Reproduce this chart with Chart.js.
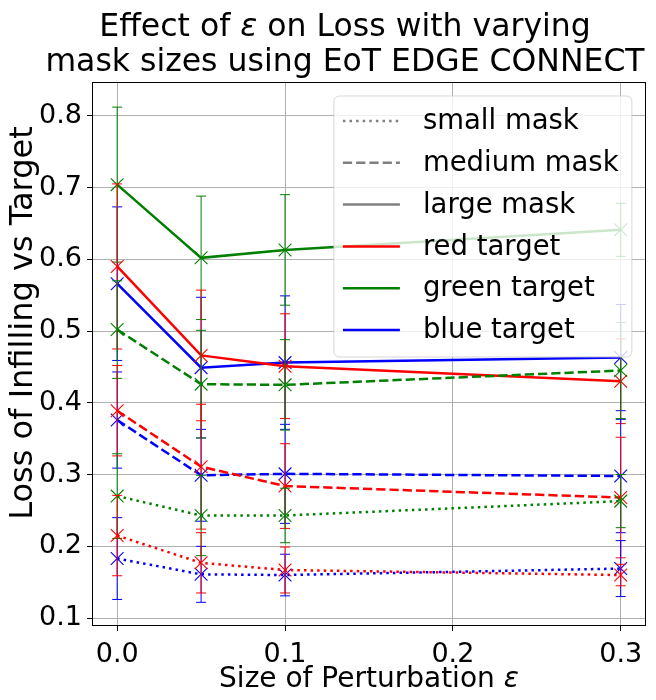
<!DOCTYPE html>
<html>
<head>
<meta charset="utf-8">
<script src="https://cdn.jsdelivr.net/npm/chart.js@4.4.0/dist/chart.umd.min.js"></script>
<style>
  html, body { margin: 0; padding: 0; background: #fff; }
</style>
</head>
<body>
<canvas id="myChart" width="656" height="700"></canvas>
<script>
// perturbation sizes (x)
const eps = [0, 0.05, 0.1, 0.3];

// mean loss per mask size / target colour
const smallRed = [0.215, 0.177, 0.167, 0.160];
const smallGreen = [0.270, 0.243, 0.243, 0.263];
const smallBlue = [0.183, 0.161, 0.160, 0.169];
const mediumRed = [0.389, 0.311, 0.284, 0.268];
const mediumGreen = [0.502, 0.426, 0.425, 0.445];
const mediumBlue = [0.376, 0.299, 0.301, 0.298];
const largeRed = [0.590, 0.466, 0.451, 0.430];
const largeGreen = [0.704, 0.602, 0.613, 0.641];
const largeBlue = [0.566, 0.449, 0.456, 0.463];

// error bar half-heights
const smallRedErr = [0.056, 0.042, 0.032, 0.015];
const smallGreenErr = [0.059, 0.056, 0.038, 0.037];
const smallBlueErr = [0.057, 0.039, 0.029, 0.039];
const mediumRedErr = [0.063, 0.087, 0.059, 0.084];
const mediumGreenErr = [0.068, 0.075, 0.063, 0.067];
const mediumBlueErr = [0.067, 0.064, 0.069, 0.079];
const largeRedErr = [0.115, 0.091, 0.073, 0.059];
const largeGreenErr = [0.108, 0.086, 0.077, 0.037];
const largeBlueErr = [0.107, 0.098, 0.093, 0.074];

const xTicks = [0.0, 0.1, 0.2, 0.3];
const yTicks = [0.1, 0.2, 0.3, 0.4, 0.5, 0.6, 0.7, 0.8];

const titleLines = ['Effect of \u03b5 on Loss with varying', 'mask sizes using EoT EDGE CONNECT'];
const xTitle = 'Size of Perturbation \u03b5';
const yTitle = 'Loss of Infilling vs Target';
const legendLabels = ['small mask', 'medium mask', 'large mask', 'red target', 'green target', 'blue target'];

const FONT = "'DejaVu Sans', sans-serif";
const dashes = { small: [2.5, 4.1], medium: [9.25, 4], large: [] };
const colors = { red: '#ff0000', green: '#008000', blue: '#0000ff' };

function makeSet(label, values, errs, mask, col) {
    return {
        label: label,
        data: values.map((v, i) => ({ x: eps[i], y: v })),
        errors: errs,
        borderColor: colors[col],
        backgroundColor: colors[col],
        borderWidth: 2.5,
        borderDash: dashes[mask],
        pointStyle: 'crossRot',
        pointRadius: 9,
        pointBorderWidth: 1.1,
        pointBorderColor: colors[col],
        tension: 0,
        fill: false
    };
}

const datasets = [
    makeSet('small red', smallRed, smallRedErr, 'small', 'red'),
    makeSet('small green', smallGreen, smallGreenErr, 'small', 'green'),
    makeSet('small blue', smallBlue, smallBlueErr, 'small', 'blue'),
    makeSet('medium red', mediumRed, mediumRedErr, 'medium', 'red'),
    makeSet('medium green', mediumGreen, mediumGreenErr, 'medium', 'green'),
    makeSet('medium blue', mediumBlue, mediumBlueErr, 'medium', 'blue'),
    makeSet('large red', largeRed, largeRedErr, 'large', 'red'),
    makeSet('large green', largeGreen, largeGreenErr, 'large', 'green'),
    makeSet('large blue', largeBlue, largeBlueErr, 'large', 'blue')
];

// text with the epsilon drawn in italic (like mathtext)
function drawMixed(ctx, text, cx, cy, size) {
    const parts = text.split('\u03b5');
    const segs = [];
    parts.forEach((p, i) => {
        if (p) segs.push({ t: p, f: size + 'px ' + FONT });
        if (i < parts.length - 1) segs.push({ t: '\u03b5', f: 'italic ' + size + 'px ' + FONT });
    });
    let total = 0;
    segs.forEach(s => { ctx.font = s.f; s.w = ctx.measureText(s.t).width; total += s.w; });
    let x = cx - total / 2;
    ctx.textAlign = 'left';
    ctx.textBaseline = 'middle';
    segs.forEach(s => { ctx.font = s.f; ctx.fillText(s.t, x, cy); x += s.w; });
}

// vertical error bars with caps
const errorBars = {
    id: 'errorBars',
    afterDatasetDraw(chart, args) {
        const ds = chart.data.datasets[args.index];
        const yScale = chart.scales.y;
        const ctx = chart.ctx;
        ctx.save();
        ctx.strokeStyle = ds.borderColor;
        ctx.lineWidth = 1;
        args.meta.data.forEach((pt, i) => {
            const v = ds.data[i].y;
            const e = ds.errors[i];
            const top = yScale.getPixelForValue(v + e);
            const bot = yScale.getPixelForValue(v - e);
            ctx.beginPath();
            ctx.moveTo(pt.x, top);
            ctx.lineTo(pt.x, bot);
            ctx.moveTo(pt.x - 5, top);
            ctx.lineTo(pt.x + 5, top);
            ctx.moveTo(pt.x - 5, bot);
            ctx.lineTo(pt.x + 5, bot);
            ctx.stroke();
        });
        ctx.restore();
    }
};

// axes frame, titles and matplotlib style legend box
const frameAndLegend = {
    id: 'frameAndLegend',
    afterDraw(chart) {
        const ctx = chart.ctx;
        const a = chart.chartArea;
        ctx.save();
        ctx.strokeStyle = '#000';
        ctx.lineWidth = 1;
        ctx.strokeRect(Math.round(a.left) + 0.5, Math.round(a.top) + 0.5,
            Math.round(a.right - a.left) - 1, Math.round(a.bottom - a.top) - 1);

        // titles
        ctx.fillStyle = '#000';
        drawMixed(ctx, titleLines[0], 345, 28, 31.5);
        drawMixed(ctx, titleLines[1], 345, 63, 31.5);
        drawMixed(ctx, xTitle, (a.left + a.right) / 2, 680, 28);
        ctx.save();
        ctx.translate(24, 323);
        ctx.rotate(-Math.PI / 2);
        ctx.font = '32px ' + FONT;
        ctx.textAlign = 'center';
        ctx.textBaseline = 'middle';
        ctx.fillText(yTitle, 0, 0);
        ctx.restore();

        // legend
        const bw = 298, bh = 261;
        const bx = a.right - 14 - bw, by = a.top + 14;
        const r = 6;
        ctx.beginPath();
        ctx.moveTo(bx + r, by);
        ctx.lineTo(bx + bw - r, by);
        ctx.quadraticCurveTo(bx + bw, by, bx + bw, by + r);
        ctx.lineTo(bx + bw, by + bh - r);
        ctx.quadraticCurveTo(bx + bw, by + bh, bx + bw - r, by + bh);
        ctx.lineTo(bx + r, by + bh);
        ctx.quadraticCurveTo(bx, by + bh, bx, by + bh - r);
        ctx.lineTo(bx, by + r);
        ctx.quadraticCurveTo(bx, by, bx + r, by);
        ctx.closePath();
        ctx.fillStyle = 'rgba(255,255,255,0.8)';
        ctx.fill();
        ctx.strokeStyle = 'rgba(204,204,204,0.8)';
        ctx.stroke();

        const legendColors = ['#808080', '#808080', '#808080', colors.red, colors.green, colors.blue];
        const legendDash = [dashes.small, dashes.medium, [], [], [], []];
        ctx.font = '27.5px ' + FONT;
        ctx.textBaseline = 'middle';
        ctx.textAlign = 'left';
        legendLabels.forEach((lab, i) => {
            const cy = by + 25 + i * 41.8;
            ctx.beginPath();
            ctx.setLineDash(legendDash[i]);
            ctx.strokeStyle = legendColors[i];
            ctx.lineWidth = 2.5;
            ctx.moveTo(bx + 9, cy);
            ctx.lineTo(bx + 66, cy);
            ctx.stroke();
            ctx.setLineDash([]);
            ctx.fillStyle = '#000';
            ctx.fillText(lab, bx + 89, cy + 1);
        });
        ctx.restore();
    }
};

const config = {
    type: 'line',
    data: { datasets: datasets },
    options: {
        responsive: false,
        animation: false,
        layout: { padding: { left: 0, right: 7, top: 82, bottom: 0 } },
        plugins: {
            legend: { display: false },
            tooltip: { enabled: false },
            title: { display: false }
        },
        scales: {
            x: {
                type: 'linear',
                min: -0.015,
                max: 0.315,
                afterBuildTicks: s => { s.ticks = xTicks.map(v => ({ value: v })); },
                afterFit: s => { s.height = 74; },
                border: { display: false },
                grid: { color: '#b0b0b0', lineWidth: 1, tickColor: '#000', tickLength: 5 },
                ticks: {
                    color: '#000',
                    padding: 8,
                    maxRotation: 0,
                    font: { family: FONT, size: 27 },
                    callback: v => v.toFixed(1)
                },
                title: { display: false }
            },
            y: {
                min: 0.089,
                max: 0.847,
                afterBuildTicks: s => { s.ticks = yTicks.map(v => ({ value: v })); },
                afterFit: s => { s.width = 92; },
                border: { display: false },
                grid: { color: '#b0b0b0', lineWidth: 1, tickColor: '#000', tickLength: 5 },
                ticks: {
                    color: '#000',
                    padding: 5,
                    font: { family: FONT, size: 27 },
                    callback: v => v.toFixed(1)
                },
                title: { display: false }
            }
        }
    },
    plugins: [errorBars, frameAndLegend]
};

const chart = new Chart(document.getElementById('myChart'), config);
</script>
</body>
</html>
